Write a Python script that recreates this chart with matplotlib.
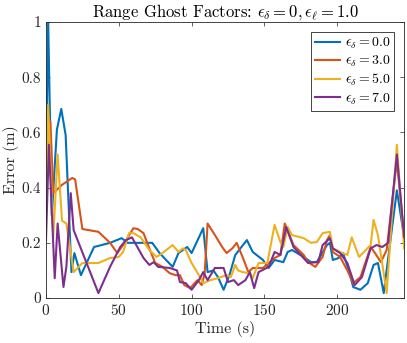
import matplotlib
matplotlib.use('Agg')
import matplotlib.pyplot as plt

plt.rcParams['font.family'] = 'serif'
plt.rcParams['font.serif'] = ['cmr10', 'DejaVu Serif']
plt.rcParams['mathtext.fontset'] = 'cm'
plt.rcParams['axes.formatter.use_mathtext'] = True

# eps_delta = 0.0
t0 = [0, 1.5, 4, 7.5, 10.5, 13.5, 17.5, 19.5, 24, 33, 44, 52, 56, 67, 73, 78, 87, 91, 97, 100,
      108, 111, 115, 118, 122, 126, 130, 135, 138, 142, 149, 153, 157, 163, 166, 169, 177, 182,
      186, 193, 195, 197, 201, 204, 208, 211, 216, 221, 225, 228, 232, 236, 241, 246]
e0 = [0.45, 1.0, 0.3, 0.61, 0.685, 0.59, 0.094, 0.163, 0.083, 0.185, 0.2, 0.217, 0.2, 0.2, 0.2,
      0.163, 0.113, 0.163, 0.185, 0.163, 0.253, 0.094, 0.10, 0.077, 0.03, 0.083, 0.156, 0.19,
      0.21, 0.167, 0.138, 0.109, 0.138, 0.13, 0.167, 0.174, 0.149, 0.13, 0.13, 0.192, 0.2, 0.138,
      0.145, 0.163, 0.1, 0.04, 0.03, 0.054, 0.12, 0.127, 0.018, 0.185, 0.39, 0.22]

# eps_delta = 3.0
t3 = [0, 3, 5, 11, 18, 20, 25, 36, 44, 49, 54, 60, 63, 67, 71, 75, 80, 85, 89, 92, 95, 99, 104,
      107, 109, 111, 117, 121, 124, 128, 131, 135, 139, 142, 149, 153, 157, 161, 164, 170, 177,
      180, 185, 190, 193, 195, 197, 202, 207, 211, 216, 223, 226, 230, 234, 241, 246]
e3 = [0.38, 0.64, 0.38, 0.41, 0.435, 0.43, 0.25, 0.24, 0.2, 0.163, 0.2, 0.253, 0.25, 0.235, 0.18,
      0.127, 0.113, 0.09, 0.083, 0.083, 0.047, 0.036, 0.065, 0.047, 0.09, 0.27, 0.22, 0.185,
      0.163, 0.18, 0.2, 0.149, 0.094, 0.109, 0.109, 0.127, 0.145, 0.156, 0.27, 0.192, 0.156,
      0.13, 0.113, 0.149, 0.21, 0.228, 0.167, 0.149, 0.1, 0.054, 0.076, 0.185, 0.163, 0.13,
      0.174, 0.5, 0.22]

# eps_delta = 5.0
t5 = [0, 1.5, 5, 8, 11, 14, 19, 25, 36, 44, 50, 53, 57, 60, 65, 71, 76, 80, 87, 91, 94, 96, 100,
      105, 108, 113, 118, 124, 127, 130, 132, 135, 140, 142, 146, 152, 157, 161, 163, 166, 169,
      177, 182, 186, 190, 195, 197, 202, 207, 210, 215, 223, 225, 228, 234, 241, 246]
e5 = [0.3, 0.70, 0.22, 0.52, 0.28, 0.27, 0.094, 0.127, 0.127, 0.145, 0.149, 0.167, 0.235, 0.235,
      0.22, 0.174, 0.149, 0.163, 0.192, 0.167, 0.18, 0.174, 0.127, 0.083, 0.054, 0.065, 0.072,
      0.083, 0.076, 0.12, 0.1, 0.094, 0.09, 0.072, 0.127, 0.127, 0.265, 0.203, 0.185, 0.257,
      0.228, 0.217, 0.2, 0.203, 0.235, 0.24, 0.18, 0.167, 0.156, 0.22, 0.149, 0.192, 0.283,
      0.228, 0.018, 0.555, 0.18]

# eps_delta = 7.0
t7 = [0, 2, 6, 8, 12, 14, 17, 19, 36, 44, 51, 55, 59, 62, 67, 71, 74, 77, 85, 90, 92, 96, 100,
      105, 108, 111, 116, 122, 125, 129, 132, 137, 140, 143, 146, 153, 157, 161, 165, 170, 180,
      185, 187, 190, 195, 197, 202, 207, 212, 217, 223, 227, 231, 235, 241, 246]
e7 = [0.21, 0.555, 0.072, 0.27, 0.04, 0.113, 0.38, 0.246, 0.018, 0.113, 0.185, 0.21, 0.22, 0.192,
      0.145, 0.12, 0.13, 0.113, 0.109, 0.1, 0.058, 0.054, 0.03, 0.065, 0.094, 0.065, 0.109,
      0.109, 0.058, 0.065, 0.047, 0.065, 0.094, 0.036, 0.094, 0.113, 0.167, 0.156, 0.257, 0.185,
      0.127, 0.13, 0.13, 0.192, 0.217, 0.18, 0.163, 0.127, 0.047, 0.076, 0.18, 0.192, 0.185,
      0.2, 0.52, 0.22]

labels = [r'$\epsilon_\delta = 0.0$', r'$\epsilon_\delta = 3.0$',
          r'$\epsilon_\delta = 5.0$', r'$\epsilon_\delta = 7.0$']
colors = ['#0072BD', '#D95319', '#EDB120', '#7E2F8E']

fig = plt.figure(figsize=(4.07, 3.43), dpi=100)
ax = fig.add_axes([0.113, 0.131, 0.88, 0.805])

for t, e, lab, c in zip([t0, t3, t5, t7], [e0, e3, e5, e7], labels, colors):
    ax.plot(t, e, color=c, linewidth=1.5, label=lab)

ax.set_xlim(0, 246)
ax.set_ylim(0, 1)
ax.set_xticks([0, 50, 100, 150, 200])
ax.set_yticks([0, 0.2, 0.4, 0.6, 0.8, 1])
ax.set_yticklabels(['0', '0.2', '0.4', '0.6', '0.8', '1'])
ax.tick_params(direction='in', top=True, right=True, length=3, width=0.5,
               colors='#262626', labelsize=11, labelcolor='#262626')
for s in ax.spines.values():
    s.set_linewidth(0.6)
    s.set_color('#262626')

ax.set_xlabel('Time (s)', fontsize=11.5, color='#262626', labelpad=2)
ax.set_ylabel('Error (m)', fontsize=11.5, color='#262626', labelpad=2)
ax.set_title(r'Range Ghost Factors: $\epsilon_\delta = 0, \epsilon_\ell = 1.0$',
             fontsize=12, pad=4)

leg = ax.legend(loc='upper right', fontsize=10, fancybox=False, framealpha=1,
                edgecolor='#262626', handlelength=1.75, borderaxespad=0.7,
                labelspacing=0.2, borderpad=0.3, handletextpad=0.35)
leg.get_frame().set_linewidth(0.6)

fig.savefig('out.png', dpi=100)
